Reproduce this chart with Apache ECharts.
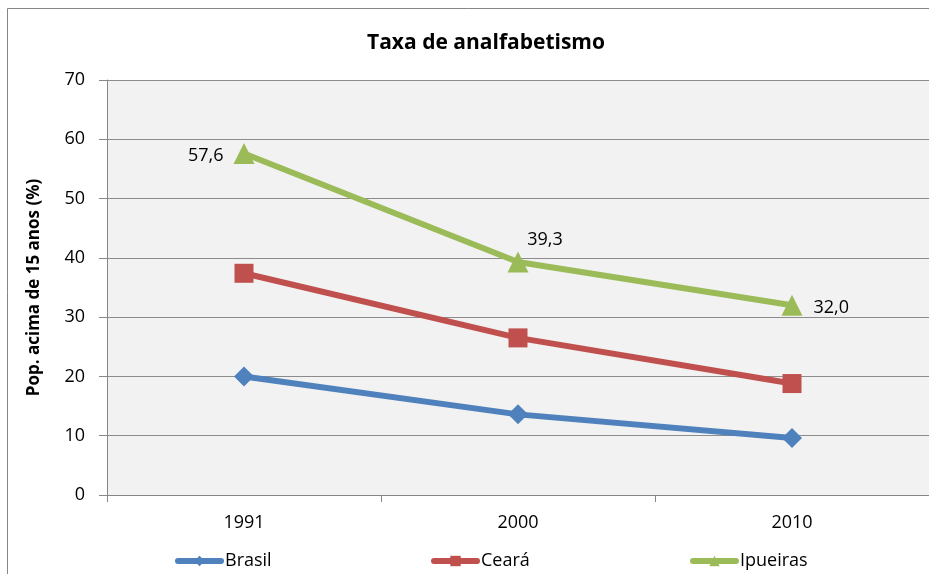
<!DOCTYPE html>
<html>
<head>
<meta charset="utf-8">
<style>
  html, body { margin: 0; padding: 0; background: #fff; }
  #chart { width: 929px; height: 574px; }
</style>
<script src="https://cdn.jsdelivr.net/npm/echarts@6/dist/echarts.min.js"></script>
</head>
<body>
<div id="chart"></div>
<script>
// dados
var anos = ['1991', '2000', '2010'];
var brasil = [20.0, 13.6, 9.6];
var ceara = [37.4, 26.5, 18.8];
var ipueiras = [57.6, 39.3, 32.0];
var yTicks = [0, 10, 20, 30, 40, 50, 60, 70];

var fonte = '"Open Sans", "Noto Sans", sans-serif';
var myChart = echarts.init(document.getElementById('chart'));

function virgula(p) {
  return p.value.toFixed(1).replace('.', ',');
}

var option = {
  animation: false,
  textStyle: { fontFamily: fonte },
  graphic: [{
    type: 'rect',
    shape: { x: 7.5, y: 8.5, width: 940, height: 600 },
    style: { fill: 'none', stroke: '#868686', lineWidth: 1 },
    z: -10
  }],
  title: {
    text: 'Taxa de analfabetismo',
    left: 481, top: 28, textAlign: 'center',
    textStyle: { fontFamily: fonte, fontSize: 21, fontWeight: 'bold', color: '#000' }
  },
  legend: [
    { data: ['Brasil'], left: 170, top: 547 },
    { data: ['Ceará'], left: 426, top: 547 },
    { data: ['Ipueiras'], left: 685, top: 547 }
  ].map(function (l) {
    l.itemWidth = 43; l.itemHeight = 13; l.itemGap = 0;
    l.lineStyle = { width: 6, cap: 'round' };
    l.textStyle = { fontFamily: fonte, fontSize: 18, color: '#000', padding: [0, 0, 0, -1] };
    return l;
  }),
  grid: { left: 107, top: 80, width: 826, height: 415, backgroundColor: '#F2F2F2', show: true, borderWidth: 0 },
  xAxis: {
    type: 'category',
    data: anos,
    boundaryGap: true,
    axisLine: { lineStyle: { color: '#868686', width: 1 } },
    axisTick: { show: true, length: 7, lineStyle: { color: '#868686' } },
    axisLabel: { fontFamily: fonte, fontSize: 18, color: '#000', margin: 19 }
  },
  yAxis: {
    type: 'value',
    min: yTicks[0], max: yTicks[yTicks.length - 1], interval: 10,
    name: 'Pop. acima de 15 anos (%)',
    nameLocation: 'middle', nameGap: 64, nameRotate: 90,
    nameTextStyle: { fontFamily: fonte, fontSize: 17, fontWeight: 'bold', color: '#000' },
    axisLine: { show: true, lineStyle: { color: '#868686', width: 1 } },
    axisTick: { show: true, length: 8, lineStyle: { color: '#868686' } },
    axisLabel: { fontFamily: fonte, fontSize: 18, color: '#000', margin: 22 },
    splitLine: { lineStyle: { color: '#8C8C8C', width: 1 } }
  },
  series: [{
    name: 'Brasil', type: 'line', data: brasil,
    symbol: 'diamond', symbolSize: 20,
    lineStyle: { width: 6, color: '#4F81BD' },
    itemStyle: { color: '#4F81BD' }
  }, {
    name: 'Ceará', type: 'line', data: ceara,
    symbol: 'rect', symbolSize: 19,
    lineStyle: { width: 6, color: '#C0504D' },
    itemStyle: { color: '#C0504D' }
  }, {
    name: 'Ipueiras', type: 'line', data: [
      { value: ipueiras[0], label: { position: 'left', distance: 10, offset: [0, 2] } },
      { value: ipueiras[1], label: { position: 'top', offset: [27, 2] } },
      { value: ipueiras[2], label: { position: 'right', distance: 11, offset: [0, 3] } }
    ],
    symbol: 'triangle', symbolSize: 21,
    lineStyle: { width: 6, color: '#9BBB59' },
    itemStyle: { color: '#9BBB59' },
    label: { show: true, formatter: virgula, fontFamily: fonte, fontSize: 18, color: '#000' }
  }]
};
myChart.setOption(option);
</script>
</body>
</html>
